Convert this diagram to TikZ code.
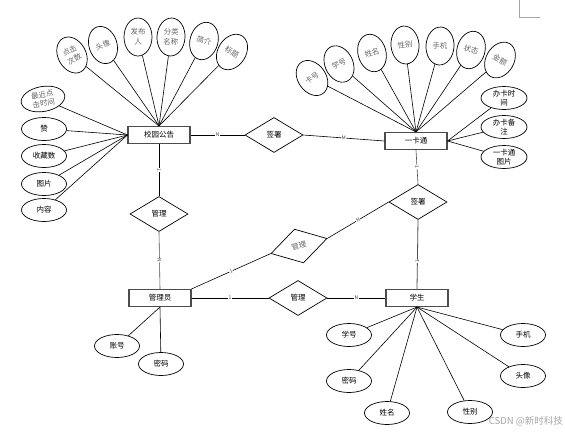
\documentclass[tikz,border=0pt]{standalone}
\usepackage{fontspec}
\setmainfont{Noto Sans CJK SC}
\usetikzlibrary{shapes.geometric}
\begin{document}
\begin{tikzpicture}[x=1pt,y=-1pt,
  ent/.style={draw=black!70, line width=1.1pt, minimum width=62pt, minimum height=17pt, inner sep=0pt, fill=white, font=\fontsize{7.5}{8}\selectfont},
  rel/.style={diamond, draw, line width=0.7pt, minimum width=58pt, minimum height=35pt, inner sep=0pt, font=\fontsize{7.5}{8}\selectfont},
  att/.style={ellipse, draw, line width=0.7pt, minimum width=45pt, minimum height=23pt, inner sep=0pt, align=center, font=\fontsize{7.5}{9}\selectfont},
  tatt/.style={ellipse, draw, line width=0.7pt, minimum width=28pt, minimum height=38pt, inner sep=0pt, align=center, text=black!60, font=\fontsize{7.5}{10}\selectfont},
  conn/.style={line width=0.6pt},
  card/.style={fill=white, inner sep=0.4pt, text=black!75, font=\fontsize{5}{5}\selectfont, sloped}
]
\useasboundingbox (0,0) rectangle (565,432);

% entities
\node[ent] (xy) at (159,135) {校园公告};
\node[ent] (yk) at (416,141) {一卡通};
\node[ent] (xs) at (417,298) {学生};
\node[ent] (gly) at (160,298) {管理员};

% relationships
\node[rel] (r1) at (274,135) {签署};
\node[rel] (r2) at (418,202) {签署};
\node[rel] (m1) at (159,214) {管理};
\node[rel] (m2) at (298,298) {管理};
\node[rel, rotate=15, text=black!60] (m3) at (299,246) {管理};

% 校园公告 attributes
\node[tatt, rotate=28] (a1) at (72,55) {点击\\次数};
\node[tatt, rotate=18] (a2) at (103,45) {头像};
\node[tatt] (a3) at (138,37) {发布\\人};
\node[tatt, rotate=-3] (a4) at (171,37) {分类\\名称};
\node[tatt, rotate=-15] (a5) at (204,41) {简介};
\node[tatt, rotate=-32] (a6) at (232,52) {标题};
\node[att, rotate=10, text=black!60, minimum width=44pt, minimum height=25pt] (a7) at (43,99) {最近点\\击时间};
\node[att] (a8) at (44,129) {赞};
\node[att] (a9) at (44,156) {收藏数};
\node[att] (a10) at (44,184) {图片};
\node[att] (a11) at (44,210) {内容};

\foreach \n in {a1,a2,a3,a4,a5,a6} \draw[conn] (\n) -- (xy.north);
\foreach \n in {a7,a8,a9,a10,a11} \draw[conn] (\n) -- (xy.west);

% 一卡通 attributes
\node[tatt, rotate=35] (b1) at (312,78) {卡号};
\node[tatt, rotate=25] (b2) at (339,64) {学号};
\node[tatt, rotate=15] (b3) at (372,53) {姓名};
\node[tatt, rotate=5] (b4) at (405,45) {性别};
\node[tatt, rotate=-3] (b5) at (440,46) {手机};
\node[tatt, rotate=-15] (b6) at (471,50) {状态};
\node[tatt, rotate=-30] (b7) at (500,60) {金额};
\node[att, minimum width=46pt] (b8) at (504,98) {办卡时\\间};
\node[att, minimum width=46pt] (b9) at (504,127) {办卡备\\注};
\node[att, minimum width=46pt] (b10) at (504,157) {一卡通\\图片};

\foreach \n in {b1,b2,b3,b4,b5,b6,b7} \draw[conn] (\n) -- (yk.north);
\foreach \n in {b8,b9,b10} \draw[conn] (\n) -- (yk.east);

% 学生 attributes
\node[att] (s1) at (349,335) {学号};
\node[att] (s2) at (349,381) {密码};
\node[att] (s3) at (387,413) {姓名};
\node[att] (s4) at (470,412) {性别};
\node[att] (s5) at (523,376) {头像};
\node[att] (s6) at (523,335) {手机};
\foreach \n in {s1,s2,s3,s4,s5,s6} \draw[conn] (\n) -- (xs.south);

% 管理员 attributes
\node[att] (g1) at (117,346) {账号};
\node[att] (g2) at (161,364) {密码};
\foreach \n in {g1,g2} \draw[conn] (\n) -- (gly.south);

% relationship connectors
\draw[conn] (xy.east) -- node[card] {N} (r1.west);
\draw[conn] (r1.east) -- node[card] {M} (yk.west);
\draw[conn] (xy.south) -- node[card] {1} (m1.north);
\draw[conn, draw=black!70] (m1.south) -- node[card] {N} (gly.north);
\draw[conn] (gly.north east) -- node[card] {1} (m3.west);
\draw[conn] (m3.east) -- node[card] {N} (r2.west);
\draw[conn] (gly.east) -- node[card] {1} (m2.west);
\draw[conn] (m2.east) -- node[card] {N} (xs.west);
\draw[conn, draw=black!70] (yk.south) -- node[card] {1} (r2.north);
\draw[conn, draw=black!70, line width=0.8pt] (r2.south) -- node[card, pos=0.6] {1} (xs.north);

% page corner mark and watermark
\draw[black!35, line width=0.6pt] (519,0) -- (519,17) -- (540,17);
\node[anchor=east, text=black!35, font=\fontsize{9.5}{10}\selectfont, inner sep=0pt] (wm) at (563,421) {CSDN @新时科技};
\end{tikzpicture}
\end{document}
